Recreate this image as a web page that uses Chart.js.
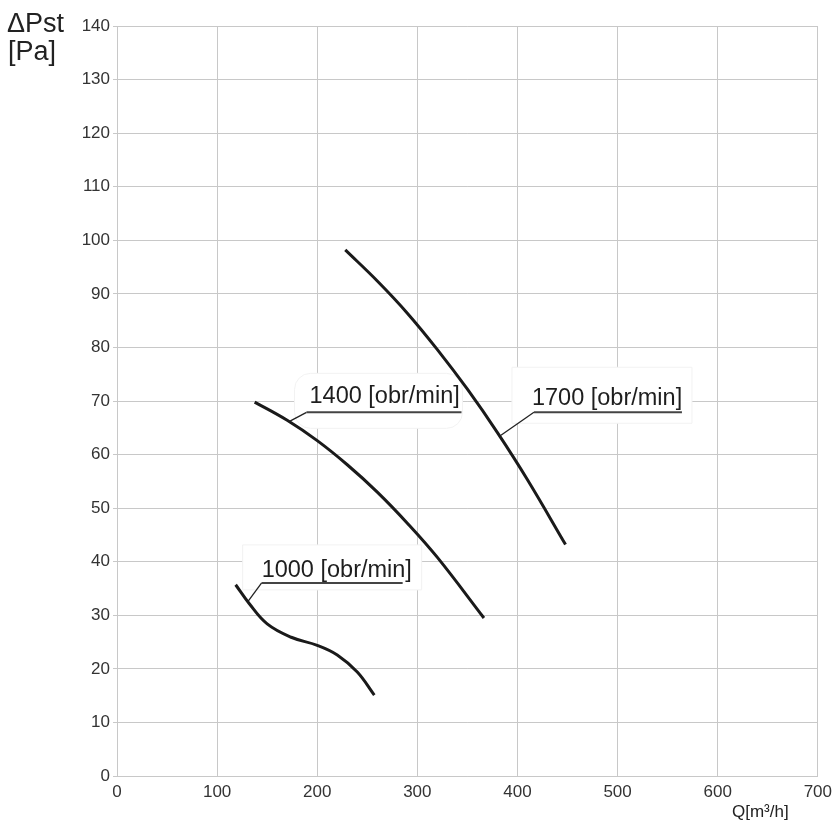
<!DOCTYPE html>
<html>
<head>
<meta charset="utf-8">
<script src="https://cdn.jsdelivr.net/npm/chart.js@4/dist/chart.umd.min.js"></script>
<style>
  body { margin: 0; background: #fff; }
  #wrap { width: 838px; height: 820px; }
</style>
</head>
<body>
<div id="wrap"><canvas id="myChart" width="838" height="820"></canvas></div>
<script>
"use strict";

// fan curves
const q1000 = [118.5, 132, 150, 174, 200, 220, 240, 257];
const p1000 = [35.7, 32.2, 28.4, 25.9, 24.4, 22.6, 19.4, 15.1];

const q1400 = [137.5, 170, 200, 230, 260, 290, 320, 366.5];
const p1400 = [69.8, 66.4, 62.6, 58.1, 53.0, 47.2, 40.8, 29.5];

const q1700 = [228, 260, 290, 320, 350, 380, 410, 448];
const p1700 = [98.2, 92.4, 86.4, 79.6, 72.2, 64.1, 55.3, 43.2];

const speedNames = ['1000 [obr/min]', '1400 [obr/min]', '1700 [obr/min]'];
// where each label's leader line touches its curve
const labelQ = [130.5, 172.3, 383.5];
const labelP = [32.5, 66.2, 63.6];

const xTicks = [0, 100, 200, 300, 400, 500, 600, 700];
const yTicks = [0, 10, 20, 30, 40, 50, 60, 70, 80, 90, 100, 110, 120, 130, 140];

function toPoints(qs, ps) {
    let pts = [];
    for (let i = 0; i < qs.length; i++) {
        pts.push({ x: qs[i], y: ps[i] });
    }
    return pts;
}

// box layout relative to the anchor (pixels)
const boxStyle = [
    { box: [-5, -57, 179, 45], r: 0, text: [14, -25], line: [14, 155, -19] },
    { box: [5, -48, 168, 55], r: 16, text: [20, -18], line: [17, 172, -9] },
    { box: [11, -68, 180, 56], r: 0, text: [31, -30], line: [33, 181, -23] }
];

const labelPlugin = {
    id: 'labels',
    beforeDatasetsDraw(chart) {
        const ctx = chart.ctx;
        const xs = chart.scales.x;
        const ys = chart.scales.y;
        ctx.save();
        for (let i = 0; i < speedNames.length; i++) {
            const ax = xs.getPixelForValue(labelQ[i]);
            const ay = ys.getPixelForValue(labelP[i]);
            const st = boxStyle[i];
            ctx.beginPath();
            if (st.r) {
                ctx.roundRect(ax + st.box[0], ay + st.box[1], st.box[2], st.box[3], st.r);
            } else {
                ctx.rect(ax + st.box[0], ay + st.box[1], st.box[2], st.box[3]);
            }
            ctx.fillStyle = '#ffffff';
            ctx.fill();
            ctx.strokeStyle = '#f2f2f2';
            ctx.lineWidth = 1;
            ctx.stroke();

            ctx.fillStyle = '#1e1e1e';
            ctx.font = '23.5px "Liberation Sans", Arial, sans-serif';
            ctx.textBaseline = 'alphabetic';
            ctx.textAlign = 'left';
            ctx.fillText(speedNames[i], ax + st.text[0], ay + st.text[1]);

            ctx.beginPath();
            ctx.moveTo(ax, ay);
            ctx.lineTo(ax + st.line[0], ay + st.line[2]);
            ctx.strokeStyle = '#222';
            ctx.lineWidth = 1.3;
            ctx.stroke();
            ctx.beginPath();
            ctx.moveTo(ax + st.line[0], ay + st.line[2]);
            ctx.lineTo(ax + st.line[1], ay + st.line[2]);
            ctx.strokeStyle = '#444';
            ctx.lineWidth = 2;
            ctx.stroke();
        }
        ctx.restore();
    },
    afterDraw(chart) {
        const ctx = chart.ctx;
        ctx.save();
        ctx.fillStyle = '#222';
        ctx.textAlign = 'left';
        ctx.textBaseline = 'alphabetic';
        ctx.font = '27px "Liberation Sans", Arial, sans-serif';
        ctx.fillText('ΔPst', 7, 32);
        ctx.fillText('[Pa]', 8, 60);
        ctx.font = '17px "Liberation Sans", Arial, sans-serif';
        ctx.fillText('Q[m³/h]', 732, 817);
        ctx.restore();
    }
};

const ctx = document.getElementById('myChart').getContext('2d');
const lineStyle = {
    showLine: true,
    pointRadius: 0,
    borderColor: '#1a1a1a',
    borderWidth: 3,
    tension: 0.4,
    fill: false
};

const myChart = new Chart(ctx, {
    type: 'scatter',
    data: {
        datasets: [
            Object.assign({ label: speedNames[0], data: toPoints(q1000, p1000) }, lineStyle),
            Object.assign({ label: speedNames[1], data: toPoints(q1400, p1400) }, lineStyle),
            Object.assign({ label: speedNames[2], data: toPoints(q1700, p1700) }, lineStyle)
        ]
    },
    options: {
        responsive: false,
        animation: false,
        layout: { padding: { left: 0, right: 18, top: 26, bottom: 0 } },
        plugins: {
            legend: { display: false },
            tooltip: { enabled: false }
        },
        scales: {
            x: {
                type: 'linear',
                min: xTicks[0],
                max: xTicks[xTicks.length - 1],
                afterBuildTicks: s => { s.ticks = xTicks.map(v => ({ value: v })); },
                afterFit: s => { s.height = 44; },
                ticks: {
                    color: '#333',
                    padding: 6,
                    maxRotation: 0,
                    font: { family: '"Liberation Sans", Arial, sans-serif', size: 17 }
                },
                grid: { color: '#c8c8c8', drawTicks: false },
                border: { color: '#c8c8c8' }
            },
            y: {
                min: yTicks[0],
                max: yTicks[yTicks.length - 1],
                afterBuildTicks: s => { s.ticks = yTicks.map(v => ({ value: v })); },
                afterFit: s => { s.width = 117; },
                ticks: {
                    color: '#333',
                    padding: 3,
                    font: { family: '"Liberation Sans", Arial, sans-serif', size: 17 }
                },
                grid: { color: '#c8c8c8', tickLength: 4 },
                border: { color: '#c8c8c8' }
            }
        }
    },
    plugins: [labelPlugin]
});
</script>
</body>
</html>
